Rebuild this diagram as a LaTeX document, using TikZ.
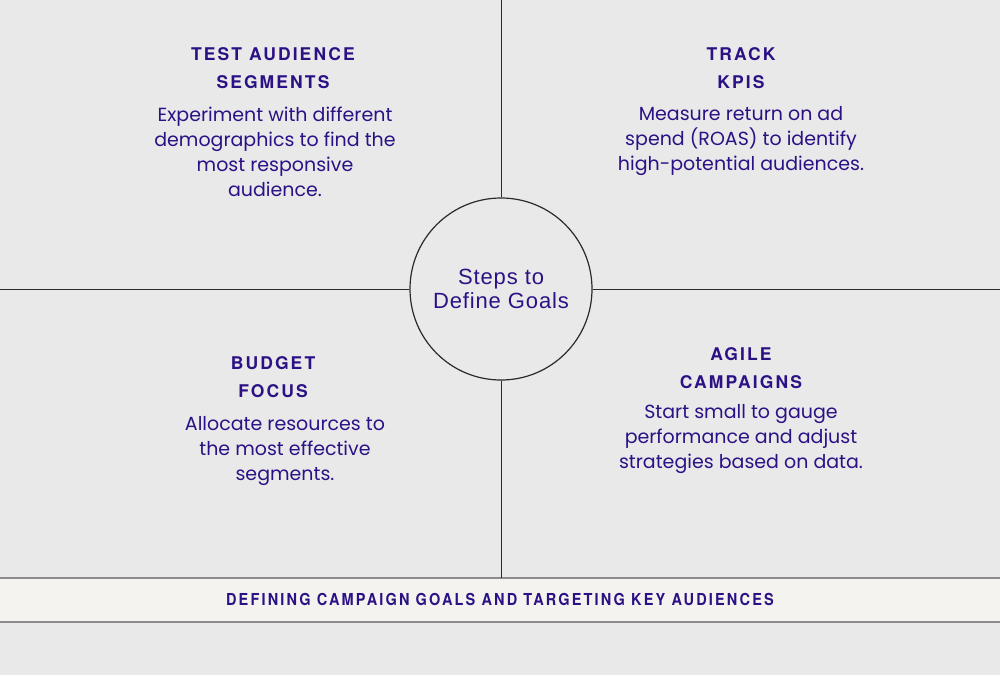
\documentclass[tikz,border=0pt]{standalone}
\usepackage{fontspec}
\setmainfont{Poppins}
\newfontfamily\headfont[LetterSpace=12]{TeX Gyre Heros Bold}
\newfontfamily\bandfont[FakeStretch=0.88,LetterSpace=13]{TeX Gyre Heros Bold}
\newfontfamily\circfont[LetterSpace=4]{Liberation Sans}
\definecolor{bgc}{HTML}{E9E9E9}
\definecolor{bandc}{HTML}{F4F3EF}
\definecolor{ink}{HTML}{2C1185}
\definecolor{rule}{HTML}{2A2A2A}
\definecolor{bandline}{HTML}{8C8C90}
\tikzset{
  head/.style={text=ink, align=center, font=\headfont\fontsize{17.5}{28}\selectfont, inner sep=0pt},
  body/.style={text=ink, align=center, font=\fontsize{19}{25}\selectfont, inner sep=0pt},
  divider/.style={draw=rule, line width=1pt},
}
\begin{document}
\begin{tikzpicture}[x=1pt,y=-1pt]
\useasboundingbox (0,0) rectangle (1000,675);
\fill[bgc] (0,0) rectangle (1000,675);
% band
\fill[bandc] (0,578) rectangle (1000,622);
\draw[bandline, line width=1.5pt] (0,578) -- (1000,578);
\draw[bandline, line width=1.5pt] (0,622) -- (1000,622);
\node[text=ink, font=\bandfont\fontsize{16.5}{18}\selectfont, inner sep=0pt] (band) at (500,599) {DEFINING CAMPAIGN GOALS AND TARGETING KEY AUDIENCES};
% circle
\node[circle, draw=rule, line width=1.2pt, fill=bgc, minimum size=182pt, inner sep=0pt, text=ink, align=center, font=\circfont\fontsize{22}{24}\selectfont] (c) at (501,289) {Steps to\\Define Goals};
\coordinate (top) at (501,0);
\coordinate (bot) at (501,578);
\coordinate (lft) at (0,289);
\coordinate (rgt) at (1000,289);
\draw[divider] (top) -- (c);
\draw[divider] (c) -- (bot);
\draw[divider] (lft) -- (c);
\draw[divider] (c) -- (rgt);
% quadrants
\node[head] (h1) at (273,68) {TEST AUDIENCE\\SEGMENTS};
\node[body] (b1) at (275,152) {Experiment with different\\demographics to find the\\most responsive\\audience.};
\node[head] (h2) at (741,68) {TRACK\\KPIS};
\node[body] (b2) at (741,141) {Measure return on ad\\spend (ROAS) to identify\\high-potential audiences.};
\node[head] (h3) at (273,377) {BUDGET\\FOCUS};
\node[body] (b3) at (285,451) {Allocate resources to\\the most effective\\segments.};
\node[head] (h4) at (741,368) {AGILE\\CAMPAIGNS};
\node[body] (b4) at (741,439) {Start small to gauge\\performance and adjust\\strategies based on data.};
\end{tikzpicture}
\end{document}
